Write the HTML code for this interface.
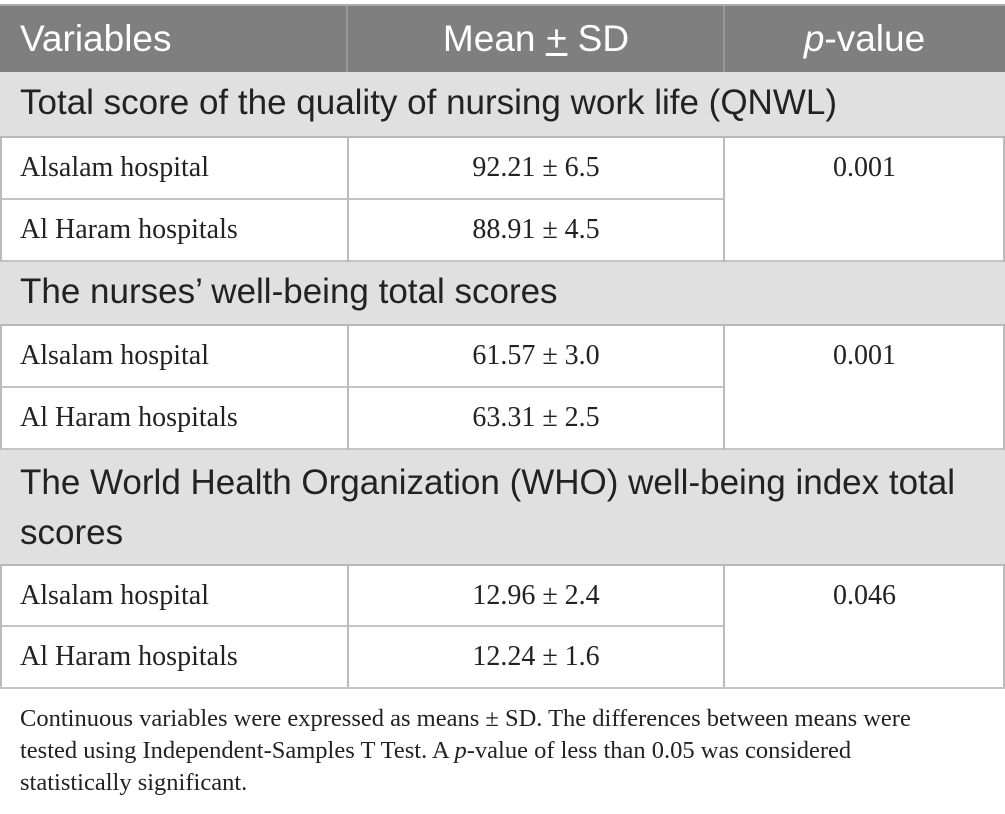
<!DOCTYPE html>
<html><head><style>
body{margin:0;width:1005px;height:814px;background:#fff;position:relative;overflow:hidden}
.a{position:absolute;box-sizing:border-box}
.hd{background:#7f7f7f;color:#fff;font:37px "Liberation Sans",sans-serif}
.sec{background:#e1e0e0;color:#222;font:35px "Liberation Sans",sans-serif;border-bottom:2px solid #b8b8b8;padding-left:20px;padding-right:25px}
.c{font:28px "Liberation Serif",serif;color:#222;border-bottom:2px solid #c4c4c4}
.p{font:28px "Liberation Serif",serif;color:#222}
.vl{background:#bbb;width:2px}
.fn{font:24.5px "Liberation Serif",serif;color:#222;left:20px;width:930px;line-height:32px}
</style></head><body>
<div class="a hd" style="left:0;top:4px;width:1005px;height:68px;border-top:2px solid #aaa"></div>
<div class="a hd" style="left:20px;top:18px;background:none">Variables</div>
<div class="a hd" style="left:348px;width:376px;top:18px;text-align:center;background:none">Mean <u>+</u> SD</div>
<div class="a hd" style="left:724px;width:281px;top:18px;text-align:center;background:none"><i>p</i>-value</div>
<div class="a" style="left:346px;top:6px;width:2px;height:66px;background:#999"></div>
<div class="a" style="left:723px;top:6px;width:2px;height:66px;background:#999"></div>

<div class="a sec" style="left:0;top:72px;width:1005px;height:66px;line-height:62px">Total score of the quality of nursing work life (QNWL)</div>
<div class="a c" style="left:0;top:138px;width:724px;height:62px"><span class="a" style="left:20px;top:14px">Alsalam hospital</span><span class="a" style="left:348px;width:376px;text-align:center;top:14px">92.21 ± 6.5</span></div>
<div class="a c" style="left:0;top:200px;width:724px;height:62px"><span class="a" style="left:20px;top:14px">Al Haram hospitals</span><span class="a" style="left:348px;width:376px;text-align:center;top:14px">88.91 ± 4.5</span></div>
<div class="a p" style="left:724px;width:281px;top:152px;text-align:center">0.001</div>
<div class="a" style="left:724px;top:260px;width:281px;height:2px;background:#c4c4c4"></div>

<div class="a sec" style="left:0;top:262px;width:1005px;height:64px;line-height:60px">The nurses’ well-being total scores</div>
<div class="a c" style="left:0;top:326px;width:724px;height:62px"><span class="a" style="left:20px;top:14px">Alsalam hospital</span><span class="a" style="left:348px;width:376px;text-align:center;top:14px">61.57 ± 3.0</span></div>
<div class="a c" style="left:0;top:388px;width:724px;height:62px"><span class="a" style="left:20px;top:14px">Al Haram hospitals</span><span class="a" style="left:348px;width:376px;text-align:center;top:14px">63.31 ± 2.5</span></div>
<div class="a p" style="left:724px;width:281px;top:340px;text-align:center">0.001</div>
<div class="a" style="left:724px;top:448px;width:281px;height:2px;background:#c4c4c4"></div>

<div class="a sec" style="left:0;top:450px;width:1005px;height:116px;line-height:50px;padding-top:8px">The World Health Organization (WHO) well-being index total scores</div>
<div class="a c" style="left:0;top:566px;width:724px;height:61px"><span class="a" style="left:20px;top:14px">Alsalam hospital</span><span class="a" style="left:348px;width:376px;text-align:center;top:14px">12.96 ± 2.4</span></div>
<div class="a c" style="left:0;top:627px;width:724px;height:62px"><span class="a" style="left:20px;top:14px">Al Haram hospitals</span><span class="a" style="left:348px;width:376px;text-align:center;top:14px">12.24 ± 1.6</span></div>
<div class="a p" style="left:724px;width:281px;top:580px;text-align:center">0.046</div>

<div class="a vl" style="left:0;top:138px;height:124px"></div>
<div class="a vl" style="left:347px;top:138px;height:124px"></div>
<div class="a vl" style="left:723px;top:138px;height:124px"></div>
<div class="a vl" style="left:1003px;top:138px;height:124px"></div>
<div class="a vl" style="left:0;top:326px;height:124px"></div>
<div class="a vl" style="left:347px;top:326px;height:124px"></div>
<div class="a vl" style="left:723px;top:326px;height:124px"></div>
<div class="a vl" style="left:1003px;top:326px;height:124px"></div>
<div class="a vl" style="left:0;top:566px;height:123px"></div>
<div class="a vl" style="left:347px;top:566px;height:123px"></div>
<div class="a vl" style="left:723px;top:566px;height:123px"></div>
<div class="a vl" style="left:1003px;top:566px;height:123px"></div>
<div class="a" style="left:0;top:687px;width:1005px;height:2px;background:#c4c4c4"></div>

<div class="a fn" style="top:703px">Continuous variables were expressed as means ± SD. The differences between means were tested using Independent-Samples T Test. A <i>p</i>-value of less than 0.05 was considered statistically significant.</div>
</body></html>
